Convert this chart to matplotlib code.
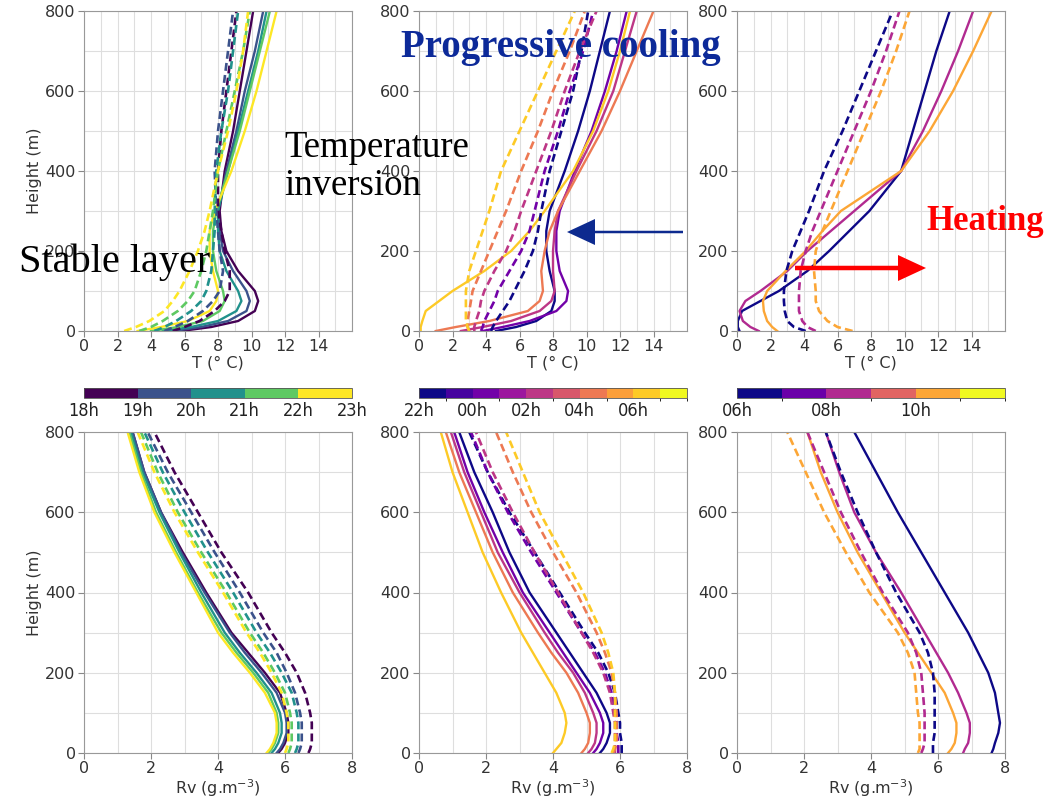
import matplotlib
matplotlib.use("Agg")
import matplotlib.pyplot as plt
from matplotlib import font_manager
from matplotlib.cm import ScalarMappable
from matplotlib.colors import BoundaryNorm
from matplotlib.patches import FancyArrow
from matplotlib.ticker import MultipleLocator

# height levels of every profile (m)
heights = [0, 10, 25, 50, 75, 100, 150, 200, 250, 300, 400, 500, 600, 700, 800]

# ---- temperature (deg C), evening 18h-22h
temp_eve = [
    [5.8, 7.6, 9.2, 10.2, 10.4, 10.2, 9.2, 8.5, 8.2, 8.1, 8.4, 8.9, 9.3, 9.7, 10.1],
    [5.3, 7.0, 8.6, 9.7, 9.9, 9.7, 8.9, 8.3, 8.1, 8.0, 8.5, 9.1, 9.6, 10.2, 10.7],
    [4.7, 6.4, 8.0, 9.1, 9.4, 9.2, 8.5, 8.1, 8.0, 8.0, 8.6, 9.2, 9.8, 10.4, 10.9],
    [4.0, 5.6, 7.1, 8.1, 8.4, 8.3, 7.9, 7.7, 7.7, 7.9, 8.6, 9.3, 9.9, 10.5, 11.1],
    [3.2, 4.6, 6.2, 7.5, 7.9, 8.0, 7.7, 7.5, 7.5, 7.8, 8.8, 9.6, 10.3, 10.9, 11.5],
]
temp_eve_dash = [
    [5.3, 6.0, 6.9, 7.8, 8.4, 8.7, 8.7, 8.4, 8.2, 8.0, 8.0, 8.2, 8.5, 8.8, 9.1],
    [4.8, 5.4, 6.2, 7.1, 7.7, 8.1, 8.3, 8.1, 8.0, 7.9, 7.8, 8.0, 8.3, 8.6, 8.9],
    [4.2, 4.8, 5.5, 6.4, 7.0, 7.3, 7.6, 7.7, 7.8, 7.8, 7.9, 8.2, 8.6, 8.9, 9.2],
    [3.3, 4.0, 4.7, 5.6, 6.2, 6.6, 7.0, 7.3, 7.5, 7.7, 8.0, 8.5, 9.0, 9.5, 9.9],
    [2.4, 3.1, 3.9, 4.8, 5.3, 5.7, 6.3, 6.8, 7.2, 7.5, 8.0, 8.6, 9.1, 9.5, 9.8],
]

# ---- temperature, night 22h-06h
temp_night = [
    [4.6, 5.8, 7.0, 7.9, 8.1, 8.1, 7.8, 7.6, 7.6, 7.8, 8.7, 9.5, 10.2, 10.8, 11.4],
    [3.8, 5.0, 6.6, 8.2, 8.8, 8.9, 8.4, 8.2, 8.2, 8.4, 9.3, 10.3, 11.1, 11.8, 12.4],
    [2.5, 3.8, 5.5, 7.2, 7.9, 8.1, 8.0, 8.0, 8.1, 8.3, 9.4, 10.6, 11.6, 12.3, 13.0],
    [1.0, 2.2, 4.2, 6.5, 7.2, 7.4, 7.3, 7.5, 7.8, 8.3, 9.6, 10.9, 12.0, 13.0, 14.0],
    [0.1, 0.1, 0.2, 0.4, 1.2, 2.0, 3.9, 5.5, 6.6, 7.5, 9.2, 10.4, 11.3, 12.0, 12.6],
]
temp_night_dash = [
    [4.3, 4.4, 4.6, 5.0, 5.4, 5.7, 6.3, 6.8, 7.1, 7.3, 7.8, 8.5, 9.2, 9.7, 10.1],
    [3.7, 3.8, 3.9, 4.2, 4.5, 4.7, 5.4, 6.1, 6.6, 6.9, 7.5, 8.3, 9.0, 9.8, 10.4],
    [3.3, 3.3, 3.4, 3.6, 3.7, 3.9, 4.5, 5.2, 5.7, 6.1, 7.0, 7.9, 8.7, 9.6, 10.6],
    [3.0, 2.9, 2.9, 3.0, 3.1, 3.2, 3.7, 4.2, 4.7, 5.2, 6.1, 7.1, 8.0, 9.0, 9.9],
    [3.0, 2.9, 2.8, 2.8, 2.8, 2.8, 3.0, 3.4, 3.8, 4.2, 4.9, 6.0, 7.1, 8.2, 9.3],
]

# ---- temperature, morning 06h-10h
temp_morn = [
    [0.15, 0.05, 0.05, 0.3, 1.4, 2.5, 4.2, 5.5, 6.7, 7.9, 9.8, 10.5, 11.2, 11.9, 12.7],
    [1.3, 0.8, 0.35, 0.15, 0.5, 1.4, 3.0, 4.2, 5.6, 7.0, 9.8, 11.1, 12.2, 13.2, 14.1],
    [2.4, 2.1, 1.8, 1.6, 1.55, 1.8, 2.9, 4.1, 5.1, 6.2, 9.8, 11.5, 12.9, 14.1, 15.2],
]
temp_morn_dash = [
    [4.1, 3.4, 3.0, 2.85, 2.8, 2.8, 2.95, 3.3, 3.8, 4.3, 5.2, 6.3, 7.3, 8.3, 9.3],
    [4.7, 4.2, 3.9, 3.7, 3.7, 3.7, 3.8, 4.1, 4.5, 5.0, 6.0, 7.0, 8.0, 8.9, 9.7],
    [6.9, 6.0, 5.4, 4.9, 4.7, 4.7, 4.6, 4.7, 5.1, 5.6, 6.6, 7.6, 8.6, 9.5, 10.3],
]

# ---- water vapour density (g/m3)
rv_eve = [
    [5.8, 5.9, 6.0, 6.1, 6.1, 6.05, 5.85, 5.4, 4.9, 4.4, 3.65, 2.95, 2.3, 1.8, 1.45],
    [5.75, 5.85, 5.95, 6.05, 6.05, 6.0, 5.75, 5.3, 4.8, 4.35, 3.6, 2.9, 2.3, 1.8, 1.45],
    [5.6, 5.7, 5.8, 5.9, 5.9, 5.85, 5.6, 5.15, 4.65, 4.2, 3.5, 2.85, 2.25, 1.75, 1.4],
    [5.5, 5.6, 5.7, 5.8, 5.8, 5.75, 5.5, 5.05, 4.55, 4.1, 3.4, 2.75, 2.15, 1.7, 1.35],
    [5.45, 5.55, 5.65, 5.75, 5.75, 5.7, 5.4, 4.95, 4.45, 4.0, 3.35, 2.7, 2.1, 1.65, 1.3],
]
rv_eve_dash = [
    [6.7, 6.75, 6.8, 6.8, 6.8, 6.75, 6.6, 6.35, 6.0, 5.6, 4.9, 4.1, 3.4, 2.7, 2.1],
    [6.4, 6.45, 6.5, 6.5, 6.5, 6.45, 6.3, 6.05, 5.75, 5.35, 4.65, 3.9, 3.2, 2.5, 1.9],
    [6.3, 6.35, 6.4, 6.4, 6.4, 6.35, 6.2, 5.9, 5.55, 5.15, 4.45, 3.7, 3.0, 2.35, 1.8],
    [6.1, 6.15, 6.2, 6.2, 6.2, 6.15, 6.0, 5.7, 5.35, 4.95, 4.25, 3.5, 2.8, 2.2, 1.7],
    [6.0, 6.05, 6.1, 6.1, 6.1, 6.05, 5.9, 5.6, 5.25, 4.85, 4.15, 3.4, 2.7, 2.1, 1.6],
]
rv_night = [
    [5.4, 5.5, 5.6, 5.7, 5.7, 5.6, 5.3, 4.9, 4.5, 4.1, 3.3, 2.7, 2.2, 1.65, 1.2],
    [5.2, 5.3, 5.4, 5.5, 5.5, 5.4, 5.1, 4.7, 4.3, 3.9, 3.1, 2.5, 1.95, 1.45, 1.05],
    [5.05, 5.15, 5.25, 5.3, 5.3, 5.2, 4.95, 4.6, 4.15, 3.75, 3.0, 2.35, 1.85, 1.35, 0.95],
    [4.85, 4.95, 5.05, 5.1, 5.1, 5.0, 4.75, 4.4, 3.95, 3.55, 2.8, 2.2, 1.7, 1.2, 0.8],
    [4.0, 4.1, 4.25, 4.35, 4.4, 4.35, 4.1, 3.75, 3.4, 3.05, 2.45, 1.9, 1.45, 1.0, 0.65],
]
rv_night_dash = [
    [6.05, 6.05, 6.05, 6.0, 6.0, 5.95, 5.85, 5.65, 5.35, 4.95, 4.2, 3.45, 2.7, 2.05, 1.5],
    [5.95, 5.95, 5.95, 5.9, 5.9, 5.85, 5.75, 5.55, 5.25, 4.85, 4.1, 3.35, 2.65, 2.05, 1.55],
    [5.85, 5.85, 5.85, 5.85, 5.85, 5.8, 5.7, 5.5, 5.2, 4.85, 4.15, 3.45, 2.8, 2.2, 1.7],
    [5.8, 5.85, 5.9, 5.9, 5.9, 5.9, 5.85, 5.75, 5.55, 5.3, 4.7, 4.0, 3.35, 2.8, 2.3],
    [5.75, 5.8, 5.85, 5.85, 5.85, 5.85, 5.85, 5.8, 5.65, 5.45, 4.9, 4.25, 3.6, 3.1, 2.6],
]
rv_morn = [
    [7.6, 7.65, 7.7, 7.8, 7.85, 7.8, 7.7, 7.5, 7.2, 6.9, 6.2, 5.5, 4.8, 4.15, 3.5],
    [6.75, 6.8, 6.9, 6.95, 6.95, 6.85, 6.6, 6.3, 5.95, 5.6, 4.9, 4.15, 3.5, 3.05, 2.65],
    [6.3, 6.4, 6.5, 6.55, 6.55, 6.45, 6.2, 5.8, 5.4, 5.0, 4.3, 3.6, 3.0, 2.5, 2.1],
]
rv_morn_dash = [
    [5.85, 5.85, 5.85, 5.9, 5.9, 5.9, 5.9, 5.85, 5.7, 5.45, 4.75, 4.15, 3.6, 3.1, 2.65],
    [5.5, 5.55, 5.6, 5.6, 5.6, 5.6, 5.55, 5.5, 5.35, 5.1, 4.35, 3.7, 3.1, 2.6, 2.1],
    [5.4, 5.45, 5.45, 5.45, 5.45, 5.4, 5.35, 5.3, 5.1, 4.8, 3.95, 3.25, 2.6, 2.05, 1.5],
]

# colour bar hour labels
eve_hours = ["18h", "19h", "20h", "21h", "22h", "23h"]
night_hours = ["22h", "00h", "02h", "04h", "06h"]
morn_hours = ["06h", "08h", "10h"]

W, H = 1044, 799
fig = plt.figure(figsize=(W / 100, H / 100), dpi=100)


def axes_px(left, top, right, bottom):
    return fig.add_axes([left / W, 1 - bottom / H, (right - left) / W, (bottom - top) / H])


vir = plt.get_cmap("viridis", 5)
pl10 = plt.get_cmap("plasma", 10)
pl6 = plt.get_cmap("plasma", 6)
eve_colors = [vir(i) for i in range(5)]
night_colors = [pl10(i) for i in (0, 2, 4, 6, 8)]
morn_colors = [pl6(i) for i in (0, 2, 4)]


def profile_panel(ax, solid, dashed, colors, xmax, xlabel, ylabel=None):
    for vals, c in zip(solid, colors):
        ax.plot(vals, heights, color=c, lw=1.7)
    for vals, c in zip(dashed, colors):
        ax.plot(vals, heights, color=c, lw=1.9, ls=(0, (3, 1.6)))
    ax.set_xlim(0, xmax)
    ax.set_ylim(0, 800)
    ax.set_xticks(range(0, xmax - 1 if xmax > 8 else xmax + 1, 2))
    ax.xaxis.set_minor_locator(MultipleLocator(1))
    ax.yaxis.set_major_locator(MultipleLocator(200))
    ax.yaxis.set_minor_locator(MultipleLocator(100))
    ax.grid(which="both", color="#dedede", lw=0.8)
    ax.set_axisbelow(True)
    ax.tick_params(which="major", length=4, color="#888888", labelsize=11.5,
                   labelcolor="#333333", pad=2)
    ax.tick_params(which="minor", length=0)
    for s in ax.spines.values():
        s.set_color("#999999")
    ax.set_xlabel(xlabel, fontsize=11.5, color="#333333", labelpad=1)
    if ylabel:
        ax.set_ylabel(ylabel, fontsize=11.5, color="#333333", labelpad=2)


cols = [(84, 352), (419, 687), (737, 1005)]
t_label = "T (\u00b0 C)"
rv_label = "Rv (g.m$^{-3}$)"

ax = axes_px(cols[0][0], 11, cols[0][1], 331)
profile_panel(ax, temp_eve, temp_eve_dash, eve_colors, 16, t_label, "Height (m)")
ax = axes_px(cols[1][0], 11, cols[1][1], 331)
profile_panel(ax, temp_night, temp_night_dash, night_colors, 16, t_label)
ax = axes_px(cols[2][0], 11, cols[2][1], 331)
profile_panel(ax, temp_morn, temp_morn_dash, morn_colors, 16, t_label)

ax = axes_px(cols[0][0], 432, cols[0][1], 753)
profile_panel(ax, rv_eve, rv_eve_dash, eve_colors, 8, rv_label, "Height (m)")
ax = axes_px(cols[1][0], 432, cols[1][1], 753)
profile_panel(ax, rv_night, rv_night_dash, night_colors, 8, rv_label)
ax = axes_px(cols[2][0], 432, cols[2][1], 753)
profile_panel(ax, rv_morn, rv_morn_dash, morn_colors, 8, rv_label)

# discrete hour colour bars between the two rows
installed = {f.name for f in font_manager.fontManager.ttflist}
cb_font = "Liberation Sans Narrow" if "Liberation Sans Narrow" in installed else "DejaVu Sans"

for (x0, x1), cmap, nbins, labels in [
    (cols[0], vir, 5, eve_hours),
    (cols[1], pl10, 10, night_hours),
    (cols[2], pl6, 6, morn_hours),
]:
    cax = axes_px(x0, 388, x1, 398)
    norm = BoundaryNorm(range(nbins + 1), nbins)
    cb = fig.colorbar(ScalarMappable(norm=norm, cmap=cmap), cax=cax,
                      orientation="horizontal")
    step = nbins // (len(labels) - 1) if len(labels) == nbins + 1 else 2
    cb.set_ticks([i * step for i in range(len(labels))])
    cb.set_ticklabels(labels)
    cax.tick_params(length=0, pad=3, labelsize=13, labelcolor="#222222")
    for lab in cax.get_xticklabels():
        lab.set_family(cb_font)
        lab.set_stretch("condensed")
    cb.outline.set_edgecolor("#555555")
    cb.outline.set_linewidth(0.6)

# annotations
serif = "Liberation Serif"
fig.text(561 / W, 1 - 48 / H, "Progressive cooling", ha="center", va="center",
         fontsize=28, fontweight="bold", family=serif, color="#0d2a99")
fig.text(284 / W, 1 - 167 / H, "Temperature\ninversion", ha="left", va="center",
         fontsize=26.5, family=serif, color="black", linespacing=1.12)
fig.text(19 / W, 1 - 262 / H, "Stable layer", ha="left", va="center",
         fontsize=29, family=serif, color="black")
fig.text(926 / W, 1 - 222 / H, "Heating", ha="left", va="center",
         fontsize=25, fontweight="bold", family=serif, color="#ff0000")


def arrow_px(x_tail, x_tip, y, shaft, color):
    arr = FancyArrow(x_tail / W, 1 - y / H, (x_tip - x_tail) / W, 0,
                     width=shaft / H, head_width=26 / H, head_length=28 / W,
                     length_includes_head=True, color=color, lw=0,
                     transform=fig.transFigure)
    fig.add_artist(arr)


arrow_px(683, 567, 232, 2.5, "#0d2a8f")
arrow_px(795, 926, 268, 4.5, "#ff0000")

fig.savefig("out.png", dpi=100)
